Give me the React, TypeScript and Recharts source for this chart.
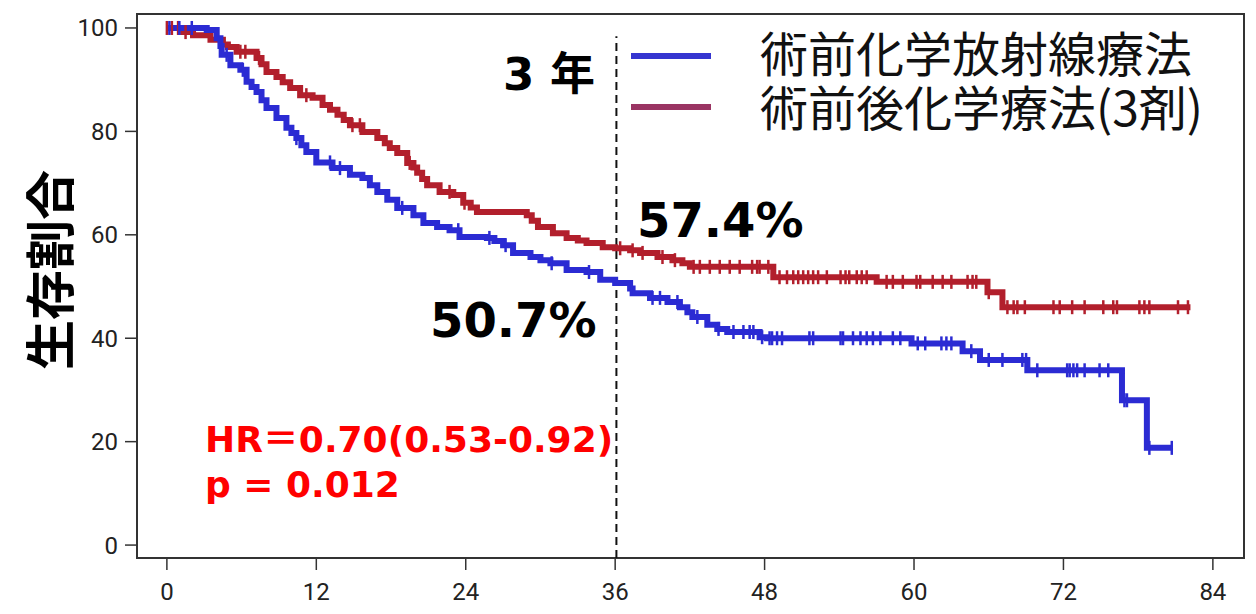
import React from 'react';
import {
    ComposedChart,
    Line,
    Scatter,
    XAxis,
    YAxis,
    ReferenceLine,
    ReferenceArea
} from 'recharts';

// Kaplan-Meier steps (months, survival %)
const crtTimes = [0, 3.2, 4.0, 4.3, 4.4, 5.1, 5.9, 6.4, 6.8, 7.2, 7.6, 8.0, 8.8, 9.6, 10.0, 10.4, 10.8, 11.2, 12.0, 13.3, 14.7, 15.7, 16.3, 16.9, 17.7, 18.5, 19.8, 20.6, 21.7, 22.7, 23.5, 25.7, 26.3, 27.0, 27.8, 29.2, 30.0, 30.8, 32.1, 33.7, 34.8, 36.0, 37.2, 37.4, 38.8, 40.2, 41.2, 41.8, 42.2, 43.4, 44.2, 45.0, 47.6, 48.2, 59.8, 63.9, 65.3, 69.1, 76.7, 78.7, 80.8];
const crtSurv = [100, 99.6, 98, 96.5, 94.8, 92.8, 91.9, 89.6, 88.6, 87.6, 86.0, 84.5, 82.6, 80.7, 79.7, 78.7, 77.3, 76.0, 74.0, 72.9, 71.6, 71.0, 69.6, 68.3, 66.8, 65.2, 63.8, 62.3, 61.5, 60.9, 59.6, 59.4, 58.8, 58.0, 56.5, 55.7, 55.1, 54.5, 53.2, 52.8, 51.3, 50.7, 49.6, 48.7, 47.8, 47.0, 46.0, 45.0, 44.1, 42.6, 41.8, 41.2, 40.2, 40.0, 39.0, 37.5, 35.8, 33.8, 28.0, 18.8, 18.8];
const crtCensor = [0.2, 1.0, 2.0, 4.8, 6.1, 10.4, 13.1, 13.9, 18.9, 23.4, 25.9, 27.2, 30.9, 33.9, 37.3, 39.0, 39.6, 41.0, 42.6, 44.3, 45.5, 46.3, 46.8, 47.1, 47.8, 48.4, 48.6, 49.0, 49.4, 51.6, 51.9, 54.1, 54.3, 55.1, 55.7, 56.2, 56.7, 57.3, 58.3, 58.9, 60.3, 60.9, 62.2, 62.6, 63.0, 64.6, 66.0, 67.1, 68.7, 69.0, 69.9, 72.3, 72.5, 72.8, 73.1, 73.7, 74.9, 75.6, 76.9, 77.1, 78.9, 80.7];

const chemoTimes = [0, 1.3, 2.1, 3.5, 4.5, 4.9, 5.6, 7.2, 7.6, 8.0, 8.8, 9.3, 9.9, 10.7, 11.7, 12.5, 13.1, 13.7, 14.2, 14.7, 15.7, 16.9, 17.5, 17.9, 18.5, 19.3, 19.8, 20.1, 20.5, 20.9, 21.9, 23.0, 23.8, 24.4, 24.9, 28.9, 29.3, 29.8, 31.0, 32.1, 33.0, 33.7, 35.0, 36.0, 37.2, 38.0, 39.4, 40.6, 41.4, 42.0, 48.7, 57.0, 65.9, 67.1, 82.2];
const chemoSurv = [100, 99.2, 98.6, 97.7, 96.8, 96.3, 95.4, 94.2, 93.0, 91.5, 90.5, 89.5, 88.4, 87.0, 86.5, 85.1, 84.2, 83.2, 82.2, 81.2, 79.9, 78.7, 77.7, 76.8, 75.8, 73.9, 73.0, 72.0, 70.8, 69.6, 68.3, 67.7, 66.2, 65.3, 64.4, 63.8, 62.7, 61.5, 60.3, 59.4, 58.9, 58.4, 57.6, 57.4, 57.0, 56.5, 55.7, 55.1, 54.5, 53.8, 51.8, 50.9, 48.9, 46.0, 46.0];
const chemoCensor = [0, 0.4, 0.9, 1.5, 5.9, 6.3, 7.4, 11.2, 14.9, 15.5, 19.5, 22.7, 23.9, 36.4, 37.4, 38.2, 39.8, 40.8, 42.3, 42.8, 43.6, 44.4, 45.2, 46.0, 47.0, 47.4, 47.6, 48.3, 49.2, 49.8, 50.3, 50.7, 51.1, 51.5, 51.9, 52.3, 53.0, 54.1, 54.5, 54.8, 55.4, 55.8, 56.2, 57.8, 58.3, 59.1, 60.2, 60.5, 61.5, 62.3, 63.0, 64.3, 64.7, 65.0, 66.0, 67.5, 68.0, 68.3, 68.9, 71.2, 71.7, 72.7, 73.7, 75.2, 76.0, 76.3, 78.1, 78.5, 78.9, 81.2, 82.0];

const xTicks = [0, 12, 24, 36, 48, 60, 72, 84];
const yTicks = [0, 20, 40, 60, 80, 100];
const legendNames = ['術前化学放射線療法', '術前後化学療法(3剤)'];

const BLUE = '#2b2bd3';
const RED = '#b21f2c';

const toRows = (times: number[], surv: number[]) => times.map((t, i) => ({ t, s: surv[i] }));

// survival value at a censor time (last step at or before t)
const censorRows = (times: number[], surv: number[], censor: number[]) =>
    censor.map((c) => {
        let s = surv[0];
        for (let i = 0; i < times.length; i++) {
            if (times[i] <= c) s = surv[i];
        }
        return { t: c, s };
    });

const crtRows = toRows(crtTimes, crtSurv);
const chemoRows = toRows(chemoTimes, chemoSurv);
const crtMarks = censorRows(crtTimes, crtSurv, crtCensor);
const chemoMarks = censorRows(chemoTimes, chemoSurv, chemoCensor);

const censorShape = (color: string) => (props: any) => {
    const { cx, cy } = props;
    return <path d={`M${cx},${cy - 7}V${cy + 7}`} stroke={color} strokeWidth={2.5} fill="none" />;
};

const tickStyle = { fontFamily: 'Roboto', fontSize: 24, fill: '#222' };
const boldNum = '"DejaVu Sans", "Noto Sans CJK JP", sans-serif';
const cjk = '"Noto Sans CJK JP", sans-serif';

export default function App() {
    return (
        <div style={{ position: 'absolute', left: 0, top: 0, width: 1256, height: 614, background: '#fff' }}>
            <ComposedChart width={1256} height={614} margin={{ top: 14, right: 12, bottom: 0, left: 0 }}>
                <XAxis
                    type="number"
                    dataKey="t"
                    domain={[-2.4, 86.5]}
                    ticks={xTicks}
                    allowDataOverflow
                    axisLine={false}
                    tickSize={12}
                    tickMargin={13}
                    tickLine={{ stroke: '#333', strokeWidth: 1.5 }}
                    tick={tickStyle}
                    height={56}
                />
                <YAxis
                    type="number"
                    dataKey="s"
                    domain={[-2.5, 102.7]}
                    ticks={yTicks}
                    allowDataOverflow
                    axisLine={false}
                    tickSize={12}
                    tickMargin={7}
                    tickLine={{ stroke: '#333', strokeWidth: 1.5 }}
                    tick={tickStyle}
                    width={137}
                />
                <ReferenceArea
                    x1={-2.4}
                    x2={86.5}
                    y1={-2.5}
                    y2={102.7}
                    fill="none"
                    stroke="#333"
                    strokeWidth={2}
                    ifOverflow="visible"
                />
                <ReferenceLine
                    segment={[{ x: 36.1, y: -2.5 }, { x: 36.1, y: 98.4 }]}
                    stroke="#111"
                    strokeWidth={2}
                    strokeDasharray="8 5"
                    ifOverflow="visible"
                />
                <Line
                    data={chemoRows}
                    dataKey="s"
                    type="stepAfter"
                    stroke={RED}
                    strokeWidth={6}
                    dot={false}
                    isAnimationActive={false}
                />
                <Line
                    data={crtRows}
                    dataKey="s"
                    type="stepAfter"
                    stroke={BLUE}
                    strokeWidth={6}
                    dot={false}
                    isAnimationActive={false}
                />
                <Scatter data={chemoMarks} dataKey="s" shape={censorShape(RED)} isAnimationActive={false} />
                <Scatter data={crtMarks} dataKey="s" shape={censorShape(BLUE)} isAnimationActive={false} />
            </ComposedChart>
            <svg
                width={1256}
                height={614}
                style={{ position: 'absolute', left: 0, top: 0, pointerEvents: 'none' }}
            >
                <text
                    transform="translate(47,270) rotate(-90)"
                    textAnchor="middle"
                    dominantBaseline="central"
                    fontFamily={cjk}
                    fontWeight={700}
                    fontSize={50}
                    fill="#000"
                >
                    生存割合
                </text>
                {/* legend */}
                <line x1={631} x2={711} y1={56} y2={56} stroke="#3535d0" strokeWidth={6} />
                <line x1={631} x2={711} y1={107} y2={107} stroke="#9a3463" strokeWidth={6} />
                <text fontFamily={cjk} fontSize={48} fill="#111">
                    <tspan x={760} y={72}>{legendNames[0]}</tspan>
                    <tspan x={760} y={126}>{legendNames[1]}</tspan>
                </text>
                <text x={503} y={90} fontFamily={boldNum} fontWeight={700} fontSize={45} fill="#000">
                    3 年
                </text>
                <text x={637} y={237} fontFamily={boldNum} fontWeight={700} fontSize={48} fill="#000">
                    57.4%
                </text>
                <text x={430} y={337} fontFamily={boldNum} fontWeight={700} fontSize={48} fill="#000">
                    50.7%
                </text>
                <text fontFamily={boldNum} fontWeight={700} fontSize={36} fill="#ff0000">
                    <tspan x={205} y={452}>HR＝0.70(0.53-0.92)</tspan>
                    <tspan x={205} y={497}>p = 0.012</tspan>
                </text>
            </svg>
        </div>
    );
}
